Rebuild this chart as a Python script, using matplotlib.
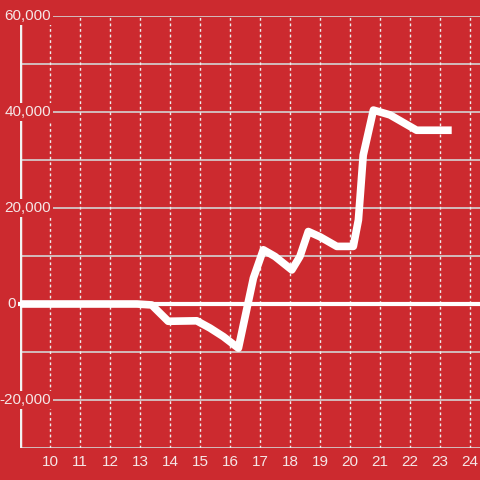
import matplotlib
matplotlib.use("Agg")
import matplotlib.pyplot as plt
import matplotlib.transforms as mtransforms

plt.rcParams['font.family'] = ['Liberation Sans', 'DejaVu Sans']

# data
hours = [9.0, 12.9, 13.39, 13.94, 14.89, 15.33, 15.78, 16.28, 16.78, 17.11,
         17.5, 18.06, 18.33, 18.61, 19.0, 19.56, 20.11, 20.28, 20.44, 20.78,
         21.33, 21.72, 22.22, 23.39]
values = [0, 0, -200, -3600, -3500, -5000, -6800, -9200, 5400, 11300,
          9900, 7100, 9900, 15100, 14000, 12000, 12000, 17500, 31000, 40400,
          39400, 38000, 36200, 36200]
x_ticks = list(range(10, 25))
y_ticks = [-20000, 0, 20000, 40000, 60000]
y_tick_labels = ['-20,000', '0', '20,000', '40,000', '60,000']
y_grid = [-30000, -20000, -10000, 0, 10000, 20000, 30000, 40000, 50000, 60000]

BG = '#cc2a2f'
TXT = '#f5e6e6'

fig = plt.figure(figsize=(4.8, 4.8), dpi=100, facecolor=BG)
ax = fig.add_axes([20/480, 32/480, 460/480, 432/480])
ax.set_facecolor(BG)
ax.set_xlim(9, 24.333)
ax.set_ylim(-30000, 60000)

for s in ax.spines.values():
    s.set_visible(False)

for yv in y_grid:
    ax.axhline(yv, color='#d4d4d4', lw=1.2, zorder=1)
for xv in x_ticks:
    ax.axvline(xv, color='#eeeeee', lw=1, ls=(0, (2, 2)), zorder=1)

ax.axvline(9, color='#f2f2f2', lw=2.5, zorder=2)
ax.plot([-0.007, 1], [0, 0],
        transform=mtransforms.blended_transform_factory(ax.transAxes, ax.transData),
        color='white', lw=3, zorder=6, clip_on=False, solid_capstyle='butt')

ax.plot(hours, values, color='white', lw=5.5, solid_joinstyle='round',
        solid_capstyle='butt', zorder=3)

ax.set_xticks(x_ticks)
ax.set_xticklabels([str(t) for t in x_ticks])
ax.tick_params(axis='x', length=0, pad=5, labelsize=11, labelcolor=TXT)
ax.set_yticks([])

trans = mtransforms.blended_transform_factory(fig.transFigure, ax.transData)
for yv, lab in zip(y_ticks, y_tick_labels):
    xr = 16/480 if yv == 0 else 51/480
    ax.text(xr, yv, lab, transform=trans, ha='right', va='center',
            fontsize=11, color=TXT, zorder=7, clip_on=False,
            bbox=dict(boxstyle='square,pad=0.12', fc=BG, ec='none'))

fig.savefig('out.png', dpi=100, facecolor=BG)
